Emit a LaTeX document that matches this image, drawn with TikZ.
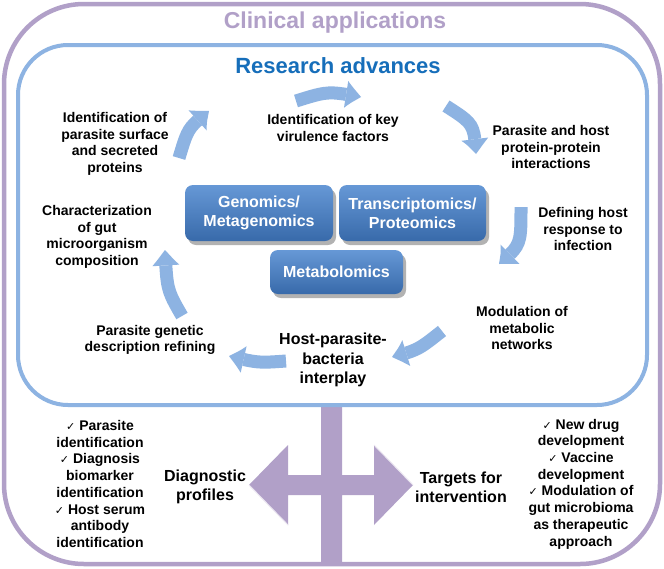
\documentclass[tikz,border=0pt]{standalone}
\usepackage{fontspec}
\setmainfont{Liberation Sans}
\newfontfamily\symfont{DejaVu Sans}
\usetikzlibrary{arrows.meta,bending,shadows}
\definecolor{lav}{RGB}{177,160,200}
\definecolor{ltblue}{RGB}{141,179,226}
\definecolor{dkblue}{RGB}{22,110,186}
\definecolor{boxtop}{RGB}{102,152,214}
\definecolor{boxbot}{RGB}{56,106,170}
\newcommand{\ck}{{\symfont\mdseries\fontsize{11}{11}\selectfont ✓}~}
\tikzset{
  txt/.style={font=\bfseries\fontsize{14}{16.7}\selectfont, align=center, inner sep=0pt},
  bigtxt/.style={font=\bfseries\fontsize{16}{19.3}\selectfont, align=center, inner sep=0pt},
  omic/.style={rounded corners=8pt, top color=boxtop, bottom color=boxbot, draw=none,
    text=white, font=\bfseries\fontsize{16}{19.3}\selectfont, align=center, inner sep=0pt,
    drop shadow={shadow xshift=3pt, shadow yshift=-4pt, opacity=.3, fill=black}},
  flow/.style={draw=ltblue, line width=13pt, line cap=butt,
    -{Triangle[width=27pt,length=16pt,line width=0pt,bend]}},
}
\begin{document}
\begin{tikzpicture}[x=1pt,y=-1pt]
\useasboundingbox[fill=white] (0,0) rectangle (664,568);
% cross
\fill[lav] (321,405) -- (342,405) -- (342,475) -- (374,475) -- (374,445) -- (413,485)
  -- (374,525) -- (374,495) -- (342,495) -- (342,564) -- (321,564) -- (321,495)
  -- (288,495) -- (288,525) -- (249,485) -- (288,445) -- (288,475) -- (321,475) -- cycle;
\draw[white!75!lav, line width=1pt] (249,485) -- (288,525);
\draw[white!75!lav, line width=1pt] (374,445) -- (413,485);
% frames
\draw[lav, line width=4.5pt, rounded corners=80pt] (4,4) rectangle (660,564);
\draw[ltblue, line width=4pt, rounded corners=50pt] (18,45) rectangle (647,405);
% headers
\node[font=\bfseries\fontsize{23}{26}\selectfont, text=lav] (clin) at (335,23) {Clinical applications};
\node[font=\bfseries\fontsize{22}{26}\selectfont, text=dkblue] (res) at (338,66) {Research advances};
% omics boxes
\node[omic, minimum width=148pt, minimum height=56pt] (gen) at (259,213) {Genomics/\\Metagenomics};
\node[omic, minimum width=147pt, minimum height=56pt] (tra) at (412.5,213) {Transcriptomics/\\Proteomics};
\node[omic, minimum width=133pt, minimum height=44pt] (met) at (336.5,272) {Metabolomics};
% cycle texts
\node[txt] (surf) at (115,144) {Identification of\\parasite surface\\and secreted\\proteins};
\node[txt] (vir) at (333,128) {Identification of key\\virulence factors};
\node[txt] (ppi) at (551,147) {Parasite and host\\protein-protein\\interactions};
\node[txt] (resp) at (583,229) {Defining host\\response to\\infection};
\node[txt] (modn) at (522,328) {Modulation of\\metabolic\\networks};
\node[bigtxt] (hpb) at (333,360) {Host-parasite-\\bacteria\\interplay};
\node[txt] (pgd) at (150,340) {Parasite genetic\\description refining};
\node[txt] (gut) at (97,237) {Characterization\\of gut\\microorganism\\composition};
% cycle arrows
\coordinate (t1) at (296,101); \coordinate (k1) at (328,91); \coordinate (p1) at (361,97);
\coordinate (t2) at (446,106); \coordinate (k2) at (474,124); \coordinate (p2) at (476,154);
\coordinate (t3) at (521,207); \coordinate (k3) at (521,245); \coordinate (p3) at (499,264);
\coordinate (t4) at (442,331); \coordinate (k4) at (418,350); \coordinate (p4) at (392,357);
\coordinate (t5) at (286,361); \coordinate (k5) at (258,363); \coordinate (p5) at (229,356);
\coordinate (t6) at (182,316); \coordinate (k6) at (167,290); \coordinate (p6) at (165,250);
\coordinate (t7) at (179,158); \coordinate (k7) at (188,128); \coordinate (p7) at (209,111);
\draw[flow] (t1) .. controls (k1) .. (p1);
\draw[flow] (t2) .. controls (k2) .. (p2);
\draw[flow] (t3) .. controls (k3) .. (p3);
\draw[flow] (t4) .. controls (k4) .. (p4);
\draw[flow] (t5) .. controls (k5) .. (p5);
\draw[flow] (t6) .. controls (k6) .. (p6);
\draw[flow] (t7) .. controls (k7) .. (p7);
% bottom
\node[bigtxt] (diag) at (205,487) {Diagnostic\\profiles};
\node[bigtxt] (targ) at (461,487) {Targets for\\intervention};
\node[txt] (llist) at (100,484) {\ck Parasite\\identification\\\ck Diagnosis\\biomarker\\identification\\\ck Host serum\\antibody\\identification};
\node[txt] (rlist) at (581,484) {\ck New drug\\development\\\ck Vaccine\\development\\\ck Modulation of\\gut microbioma\\as therapeutic\\approach};
\end{tikzpicture}
\end{document}
